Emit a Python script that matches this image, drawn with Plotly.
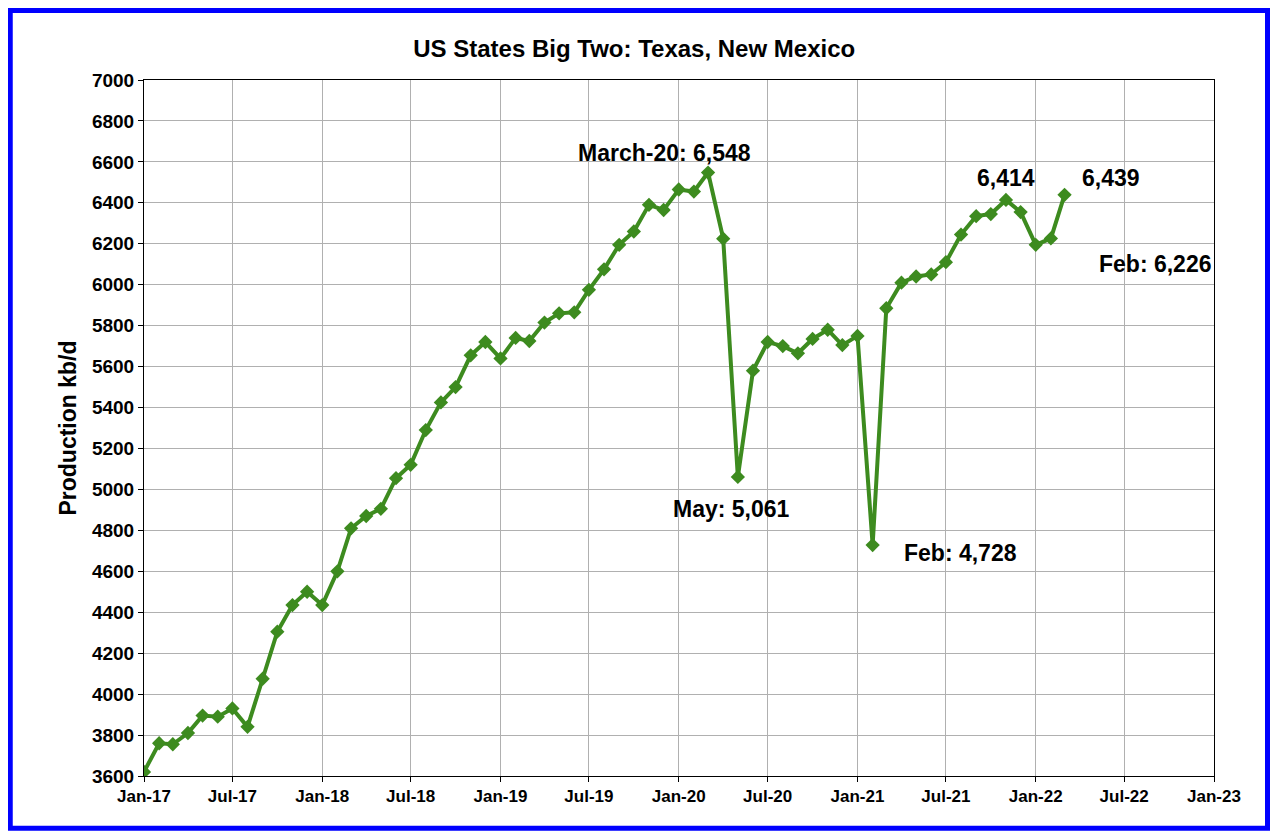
import plotly.graph_objects as go
import pandas as pd

# Monthly production, Jan-17 .. Mar-22 (kb/d)
months = pd.date_range("2017-01-01", "2022-03-01", freq="MS")
production = [
    3620, 3760, 3755, 3810, 3895, 3890, 3930, 3840, 4075, 4305, 4435, 4500,
    4435, 4600, 4810, 4870, 4905, 5055, 5120, 5290, 5425, 5500, 5655, 5720,
    5640, 5740, 5725, 5815, 5860, 5865, 5975, 6075, 6195, 6260, 6390, 6365,
    6465, 6455, 6548, 6225, 5061, 5580, 5720, 5700, 5665, 5735, 5780, 5705,
    5750, 4728, 5885, 6010, 6040, 6050, 6110, 6245, 6335, 6345, 6414, 6355,
    6195, 6226, 6439,
]
tick_dates = pd.date_range("2017-01-01", "2023-01-01", freq="6MS")

green = "#3d8b1f"
fig = go.Figure(go.Scatter(
    x=months, y=production, mode="lines+markers",
    line=dict(color=green, width=4),
    marker=dict(symbol="diamond", size=11, color=green),
))

font_b = dict(family="Liberation Sans, Arial", size=23, color="black")
labels = [
    ("2020-03-01", 6548, "March-20: 6,548", -44, 20),
    ("2020-05-01", 5061, "May: 5,061", -6, -32),
    ("2021-02-01", 4728, "Feb: 4,728", 88, -8),
    ("2021-11-01", 6414, "6,414", 0, 22),
    ("2022-03-01", 6439, "6,439", 46, 17),
    ("2022-02-01", 6226, "Feb: 6,226", 105, -26),
]
for x, y, t, ax, ay in labels:
    fig.add_annotation(x=x, y=y, text=f"<b>{t}</b>", showarrow=False,
                       xshift=ax, yshift=ay, font=font_b)

fig.add_shape(type="rect", xref="paper", yref="paper",
              x0=-0.125, x1=1.05, y0=-0.075, y1=1.10,
              line=dict(color="#0000ff", width=5))

fig.update_layout(
    width=1278, height=840,
    margin=dict(l=136, r=72, t=72, b=72),
    paper_bgcolor="white", plot_bgcolor="white",
    showlegend=False,
    title=dict(text="<b>US States Big Two: Texas, New Mexico</b>",
               x=0.49, xanchor="center", y=0.962,
               font=dict(family="Liberation Sans, Arial", size=24, color="black")),
    font=dict(family="Liberation Sans, Arial", color="black"),
)
fig.update_xaxes(
    range=["2017-01-01", "2023-01-01"], tickvals=tick_dates,
    ticktext=[d.strftime("<b>%b-%y</b>") for d in tick_dates],
    tickfont=dict(size=17, family="Liberation Sans, Arial"),
    showgrid=True, gridcolor="#b0b0b0", gridwidth=1,
    showline=True, linecolor="black", linewidth=1, mirror=True,
    ticks="outside", ticklen=5, tickcolor="black",
)
fig.update_yaxes(
    range=[3600, 7000], dtick=200, tickprefix="<b>", ticksuffix="</b>",
    tickfont=dict(size=19, family="Liberation Sans, Arial"),
    title=dict(text="<b>Production kb/d</b>", font=dict(size=23), standoff=8),
    showgrid=True, gridcolor="#b0b0b0", gridwidth=1,
    showline=True, linecolor="black", linewidth=1, mirror=True,
    ticks="outside", ticklen=5, tickcolor="black",
)

fig.write_html("out.html")
